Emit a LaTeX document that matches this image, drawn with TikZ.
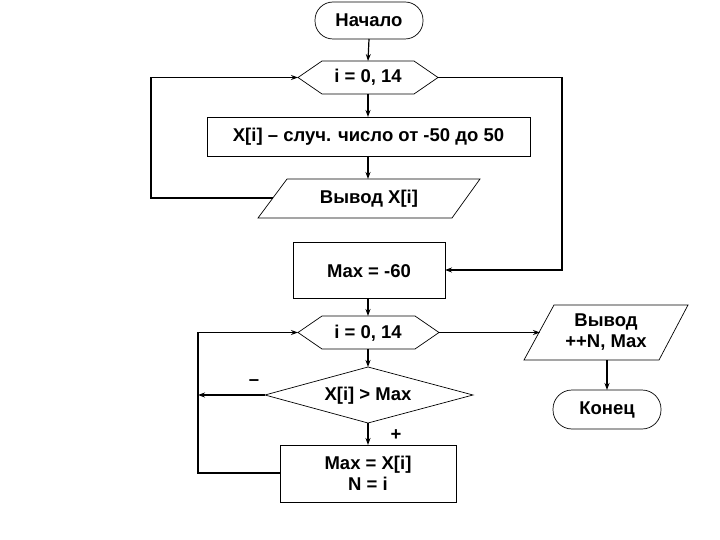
\documentclass[tikz,border=0pt]{standalone}
\usepackage{fontspec}
\setmainfont{Liberation Sans}
\usetikzlibrary{arrows.meta}
\begin{document}
\begin{tikzpicture}[x=1pt,y=-1pt,
  shp/.style={draw=black,line width=0.7pt},
  lbl/.style={font=\bfseries\fontsize{18.5}{21}\selectfont,align=center,inner sep=0},
  con/.style={draw=black,line width=1.2pt},
  arr/.style={con,-{Stealth[length=7pt,width=5pt]}}]
\useasboundingbox (0,0) rectangle (720,540);
% shapes
\draw[shp,rounded corners=18pt] (315,2) rectangle (423,39);
\node[lbl] (start) at (369,20) {Начало};
\coordinate (startB) at (369,39);
\draw[shp] (298,77.5)--(322,61)--(414,61)--(438,77.5)--(414,94)--(322,94)--cycle;
\node[lbl] (h1) at (368,77.5) {i = 0, 14};
\coordinate (h1T) at (368,61); \coordinate (h1B) at (368,94);
\coordinate (h1L) at (298,77.5); \coordinate (h1R) at (438,77.5);
\draw[shp] (207,117) rectangle (530,156);
\node[lbl] (r1) at (368.5,137) {X[i] – случ. число от -50 до 50};
\coordinate (r1T) at (368,117); \coordinate (r1B) at (368,156);
\draw[shp] (287,179)--(480,179)--(452,218)--(258,218)--cycle;
\node[lbl] (p1) at (369,199) {Вывод X[i]};
\coordinate (p1T) at (368,179); \coordinate (p1L) at (273,198);
\draw[shp] (293,242) rectangle (445,298);
\node[lbl] (m1) at (369,271) {Max = -60};
\coordinate (m1R) at (445,270); \coordinate (m1B) at (368,298);
\draw[shp] (298,332.5)--(322,316)--(415,316)--(439,332.5)--(415,349)--(322,349)--cycle;
\node[lbl] (h2) at (368,333) {i = 0, 14};
\coordinate (h2T) at (368,316); \coordinate (h2B) at (368,349);
\coordinate (h2L) at (298,332.5); \coordinate (h2R) at (439,332.5);
\draw[shp] (265,395)--(368,367)--(473,395)--(368,423)--cycle;
\node[lbl] (d) at (368,396) {X[i] > Max};
\coordinate (dT) at (368,367); \coordinate (dB) at (368,423); \coordinate (dL) at (265,395);
\node[lbl] (minus) at (254,383) {–};
\node[lbl] (plus) at (396,435) {+};
\draw[shp] (280,445) rectangle (456,502);
\node[lbl] (r2) at (368,473.5) {Max = X[i]\\N = i};
\coordinate (r2T) at (368,445); \coordinate (r2L) at (280,473);
\draw[shp] (554,305)--(688,305)--(659,360)--(524,360)--cycle;
\node[lbl] (p2) at (606,332.5) {Вывод\\++N, Max};
\coordinate (p2L) at (540,332.5); \coordinate (p2B) at (607,360);
\draw[shp,rounded corners=19pt] (553,390) rectangle (661,429);
\node[lbl] (end) at (607,410) {Конец};
\coordinate (endT) at (607,390);
% connectors
\draw[arr] (startB)--(h1T);
\draw[arr] (h1B)--(r1T);
\draw[arr] (r1B)--(p1T);
\draw[arr] (p1L)--(151,198)--(151,77.5)--(h1L);
\draw[arr] (h1R)--(562,77.5)--(562,270)--(m1R);
\draw[arr] (m1B)--(h2T);
\draw[arr] (h2B)--(dT);
\draw[arr] (dL)--(198,395);
\draw[arr] (dB)--(r2T);
\draw[arr] (r2L)--(198,473)--(198,332.5)--(h2L);
\draw[arr] (h2R)--(p2L);
\draw[arr] (p2B)--(endT);
\end{tikzpicture}
\end{document}
